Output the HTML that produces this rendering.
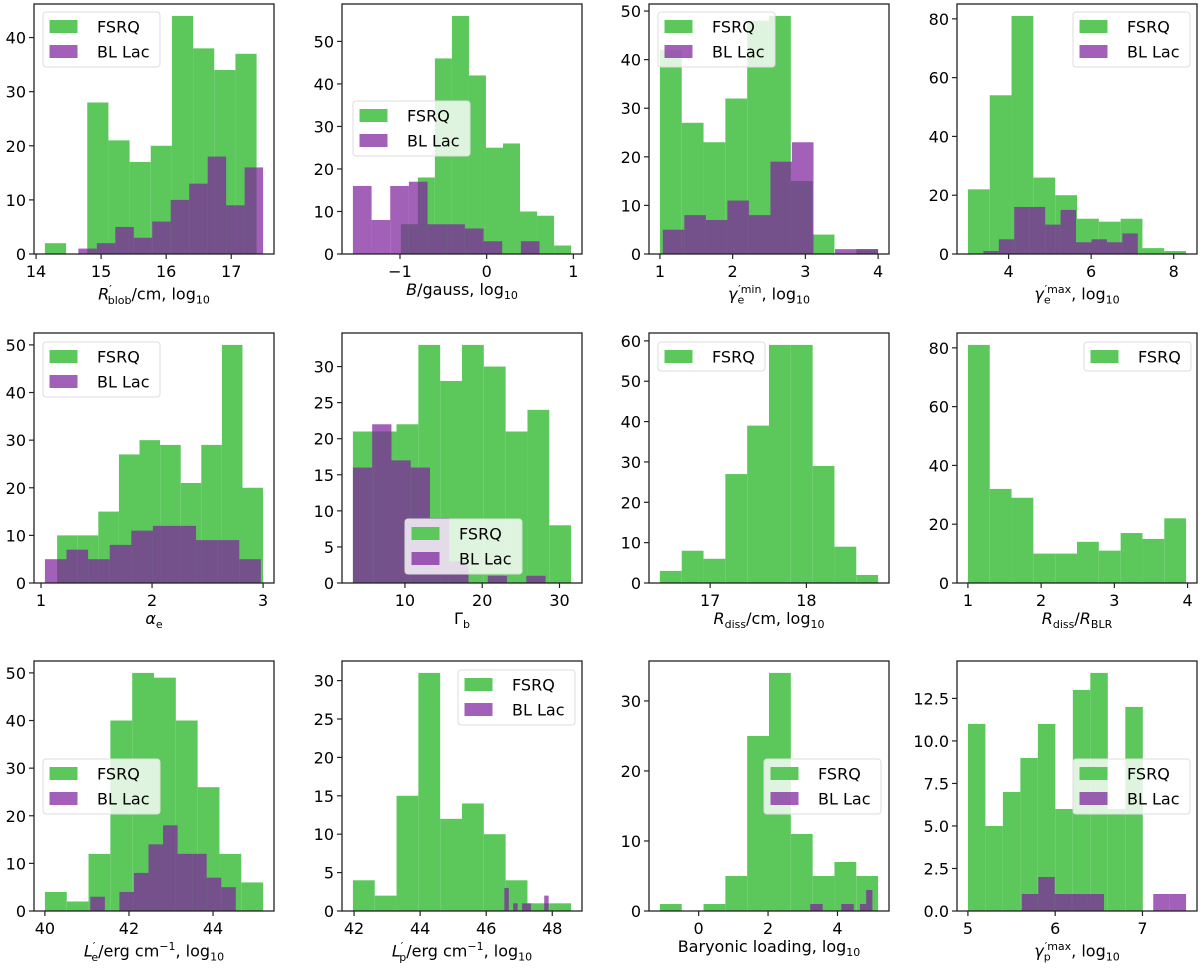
<!DOCTYPE html>
<html><head><meta charset="utf-8">
<style>
body{margin:0;background:#fff;width:1200px;height:971px;overflow:hidden;position:relative;font-family:"DejaVu Sans","Liberation Sans",sans-serif;}
svg{position:absolute;left:0;top:0;font-family:"DejaVu Sans","Liberation Sans",sans-serif;}
.xl{position:absolute;font-size:16px;color:#000;white-space:nowrap;transform:translateX(-50%);line-height:20px;}
.xl sub,.xl sup{font-size:11px;}
</style></head>
<body>
<svg id="fig" width="1200" height="971"></svg>
<div class="xl" style="left:154px;top:280px"><i>R</i><sup>′</sup><sub style="margin-left:-4px">blob</sub>/cm, log<sub>10</sub></div>
<div class="xl" style="left:462px;top:280px"><i>B</i>/gauss, log<sub>10</sub></div>
<div class="xl" style="left:769px;top:280px"><i>γ</i><sub>e</sub><sup style="margin-left:-6px">′min</sup>, log<sub>10</sub></div>
<div class="xl" style="left:1077px;top:280px"><i>γ</i><sub>e</sub><sup style="margin-left:-6px">′max</sup>, log<sub>10</sub></div>
<div class="xl" style="left:154px;top:609px"><i>α</i><sub>e</sub></div>
<div class="xl" style="left:462px;top:609px">Γ<sub>b</sub></div>
<div class="xl" style="left:769px;top:609px"><i>R</i><sub>diss</sub>/cm, log<sub>10</sub></div>
<div class="xl" style="left:1077px;top:609px"><i>R</i><sub>diss</sub>/<i>R</i><sub>BLR</sub></div>
<div class="xl" style="left:154px;top:937px"><i>L</i><sup>′</sup><sub style="margin-left:-4px">e</sub>/erg cm<sup>−1</sup>, log<sub>10</sub></div>
<div class="xl" style="left:462px;top:937px"><i>L</i><sup>′</sup><sub style="margin-left:-4px">p</sub>/erg cm<sup>−1</sup>, log<sub>10</sub></div>
<div class="xl" style="left:769px;top:937px">Baryonic loading, log<sub>10</sub></div>
<div class="xl" style="left:1077px;top:937px"><i>γ</i><sub>p</sub><sup style="margin-left:-6px">′max</sup>, log<sub>10</sub></div>
<script>
// ---- data (bin range [lo,hi] and counts per series) ----
const p1_fsrq_range=[14.136,17.39]; const p1_fsrq_counts=[2,0,28,21,17,20,44,38,34,37];
const p1_bl_range=[14.65,17.49];   const p1_bl_counts=[1,2,5,3,6,10,13,18,9,16];
const p1_xticks=[14,15,16,17]; const p1_yticks=[0,10,20,30,40];

const p2_fsrq_range=[-0.99,0.974]; const p2_fsrq_counts=[7,18,46,56,42,25,26,10,9,2];
const p2_bl_range=[-1.543,0.61];   const p2_bl_counts=[16,8,16,17,7,7,6,3,0,3];
const p2_xticks=[-1,0,1]; const p2_yticks=[0,10,20,30,40,50];

const p3_fsrq_range=[1.0,4.0]; const p3_fsrq_counts=[42,27,23,32,48,49,15,4,0,1];
const p3_bl_range=[1.04,4.0];  const p3_bl_counts=[5,8,7,11,8,19,23,0,1,1];
const p3_xticks=[1,2,3,4]; const p3_yticks=[0,10,20,30,40,50];

const p4_fsrq_range=[3.015,8.3]; const p4_fsrq_counts=[22,54,81,26,20,12,11,12,2,1];
const p4_bl_range=[3.39,7.13];   const p4_bl_counts=[1,5,16,16,10,15,4,5,4,7];
const p4_xticks=[4,6,8]; const p4_yticks=[0,20,40,60,80];

const p5_fsrq_range=[1.145,3.0]; const p5_fsrq_counts=[10,10,15,27,30,29,21,29,50,20];
const p5_bl_range=[1.035,2.98];  const p5_bl_counts=[5,7,5,8,11,12,12,9,9,5];
const p5_xticks=[1,2,3]; const p5_yticks=[0,10,20,30,40,50];

const p6_fsrq_range=[3.27,31.5]; const p6_fsrq_counts=[21,21,22,33,28,33,30,21,24,8];
const p6_bl_range=[3.27,28.2];   const p6_bl_counts=[16,22,17,16,9,3,0,1,0,1];
const p6_xticks=[10,20,30]; const p6_yticks=[0,5,10,15,20,25,30];

const p7_fsrq_range=[16.478,18.745]; const p7_fsrq_counts=[3,8,6,27,39,59,59,29,9,2];
const p7_xticks=[17,18]; const p7_yticks=[0,10,20,30,40,50,60];

const p8_fsrq_range=[1.0,3.98]; const p8_fsrq_counts=[81,32,29,10,10,14,11,17,15,22];
const p8_xticks=[1,2,3,4]; const p8_yticks=[0,20,40,60,80];

const p9_fsrq_range=[40.0,45.19]; const p9_fsrq_counts=[4,2,12,40,50,49,40,26,12,6];
const p9_bl_range=[41.08,44.54];  const p9_bl_counts=[3,0,4,8,14,18,12,12,7,5];
const p9_xticks=[40,42,44]; const p9_yticks=[0,10,20,30,40,50];

const p10_fsrq_range=[41.965,48.57]; const p10_fsrq_counts=[4,2,15,31,12,14,10,4,1,1];
const p10_bl_range=[46.55,47.89];    const p10_bl_counts=[3,0,1,0,1,1,0,0,0,2];
const p10_xticks=[42,44,46,48]; const p10_yticks=[0,5,10,15,20,25,30];

const p11_fsrq_range=[-1.116,5.17]; const p11_fsrq_counts=[1,0,1,5,25,34,11,5,7,5];
const p11_bl_range=[3.215,5.006];   const p11_bl_counts=[1,1,0,0,0,1,1,0,1,3];
const p11_xticks=[0,2,4]; const p11_yticks=[0,10,20,30];

const p12_fsrq_range=[5.0,7.004]; const p12_fsrq_counts=[11,5,7,9,11,6,13,14,6,12];
const p12_bl_range=[5.618,7.5];   const p12_bl_counts=[1,2,1,1,1,0,0,0,1,1];
const p12_xticks=[5,6,7]; const p12_yticks=[0,2.5,5,7.5,10,12.5];

const GREEN='#5cc85c', PURPLE='rgba(126,35,156,0.72)';
const NS='http://www.w3.org/2000/svg';
const svg=document.getElementById('fig');
function mk(tag,attrs,parent){const e=document.createElementNS(NS,tag);for(const k in attrs)e.setAttribute(k,attrs[k]);(parent||svg).appendChild(e);return e;}

const colsX=[34,342,649,957], rowsY=[4,333,661], W=240, H=250;

const panels=[
 {id:'rblob',fs:[p1_fsrq_range,p1_fsrq_counts],bl:[p1_bl_range,p1_bl_counts],xt:p1_xticks,yt:p1_yticks,leg:[43,12,2]},
 {id:'b',fs:[p2_fsrq_range,p2_fsrq_counts],bl:[p2_bl_range,p2_bl_counts],xt:p2_xticks,yt:p2_yticks,leg:[353,101,2]},
 {id:'gamma-e-min',fs:[p3_fsrq_range,p3_fsrq_counts],bl:[p3_bl_range,p3_bl_counts],xt:p3_xticks,yt:p3_yticks,leg:[658,12,2]},
 {id:'gamma-e-max',fs:[p4_fsrq_range,p4_fsrq_counts],bl:[p4_bl_range,p4_bl_counts],xt:p4_xticks,yt:p4_yticks,leg:[1073,12,2]},
 {id:'alpha-e',fs:[p5_fsrq_range,p5_fsrq_counts],bl:[p5_bl_range,p5_bl_counts],xt:p5_xticks,yt:p5_yticks,leg:[43,342,2]},
 {id:'gamma-b',fs:[p6_fsrq_range,p6_fsrq_counts],bl:[p6_bl_range,p6_bl_counts],xt:p6_xticks,yt:p6_yticks,leg:[405,519,2]},
 {id:'rdiss',fs:[p7_fsrq_range,p7_fsrq_counts],bl:null,xt:p7_xticks,yt:p7_yticks,leg:[658,342,1]},
 {id:'rdiss-rblr',fs:[p8_fsrq_range,p8_fsrq_counts],bl:null,xt:p8_xticks,yt:p8_yticks,leg:[1084,342,1]},
 {id:'le',fs:[p9_fsrq_range,p9_fsrq_counts],bl:[p9_bl_range,p9_bl_counts],xt:p9_xticks,yt:p9_yticks,leg:[43,759,2]},
 {id:'lp',fs:[p10_fsrq_range,p10_fsrq_counts],bl:[p10_bl_range,p10_bl_counts],xt:p10_xticks,yt:p10_yticks,leg:[458,670,2]},
 {id:'baryonic',fs:[p11_fsrq_range,p11_fsrq_counts],bl:[p11_bl_range,p11_bl_counts],xt:p11_xticks,yt:p11_yticks,leg:[764,759,2]},
 {id:'gamma-p-max',fs:[p12_fsrq_range,p12_fsrq_counts],bl:[p12_bl_range,p12_bl_counts],xt:p12_xticks,yt:p12_yticks,leg:[1073,759,2],yfmt:1},
];

panels.forEach((p,i)=>{
  const L=colsX[i%4], T=rowsY[Math.floor(i/4)];
  const g=mk('g',{});
  
  
  let lo=p.fs[0][0], hi=p.fs[0][1], ymaxC=Math.max(...p.fs[1]);
  if(p.bl){lo=Math.min(lo,p.bl[0][0]);hi=Math.max(hi,p.bl[0][1]);ymaxC=Math.max(ymaxC,...p.bl[1]);}
  const m=(hi-lo)*0.05, x0=lo-m, x1=hi+m, y1=ymaxC*1.05;
  const sx=v=>L+(v-x0)/(x1-x0)*W;
  const sy=v=>T+H-v/y1*H;
  function drawSeries(s,color,name){
    const [r,c]=s, n=c.length, w=(r[1]-r[0])/n;
    c.forEach((v,k)=>{
      if(v<=0)return;
      const a=sx(r[0]+k*w), b=sx(r[0]+(k+1)*w);
      const rc=mk('rect',{x:a,y:sy(v),width:b-a,height:sy(0)-sy(v),fill:color},g);
      
      
    });
  }
  drawSeries(p.fs,GREEN,'fsrq');
  if(p.bl) drawSeries(p.bl,PURPLE,'bl-lac');
  const fr=mk('rect',{x:L,y:T,width:W,height:H,fill:'none',stroke:'#222','stroke-width':1.3},g);
  
  
  p.xt.forEach(t=>{
    const x=sx(t);
    mk('line',{x1:x,x2:x,y1:T+H,y2:T+H+5,stroke:'#222','stroke-width':1.2},g);
    const tx=mk('text',{x:x,y:T+H+23,'font-size':16,'text-anchor':'middle',fill:'#000'},g);
    tx.textContent=(t<0?'−'+(-t):String(t));
    
    
  });
  p.yt.forEach(t=>{
    const y=sy(t);
    mk('line',{x1:L-5,x2:L,y1:y,y2:y,stroke:'#222','stroke-width':1.2},g);
    const tx=mk('text',{x:L-8,y:y+6,'font-size':16,'text-anchor':'end',fill:'#000'},g);
    tx.textContent=p.yfmt?t.toFixed(1):String(t);
    
    
  });
  const [lx,ly,ne]=p.leg;
  const lg=mk('g',{},g);
  
  
  const lw=ne===2?117:107, lh=ne===2?55:29;
  mk('rect',{x:lx,y:ly,width:lw,height:lh,rx:3,fill:'rgba(255,255,255,0.8)',stroke:'#ddd','stroke-width':1},lg);
  const items=ne===2?[['FSRQ',GREEN],['BL Lac',PURPLE]]:[['FSRQ',GREEN]];
  items.forEach((it,k)=>{
    const cy=ly+14.5+k*25;
    mk('rect',{x:lx+6.5,y:cy-6.5,width:28,height:13,fill:it[1]},lg);
    const tx=mk('text',{x:lx+54,y:cy+6,'font-size':16,fill:'#000'},lg);
    tx.textContent=it[0];
    
    
  });
});
</script>
</body></html>
